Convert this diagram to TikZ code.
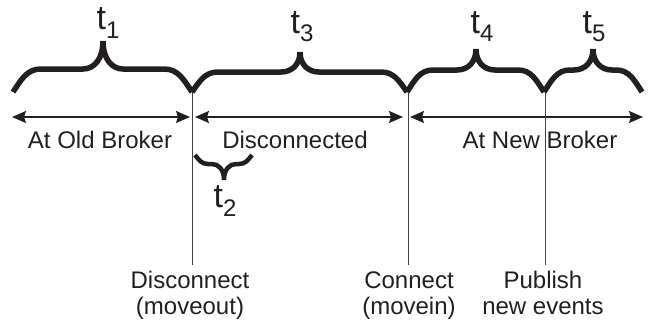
\documentclass[tikz,border=0pt]{standalone}
\usepackage{fontspec}
\setmainfont{Liberation Sans}
\usetikzlibrary{arrows.meta}
\definecolor{ink}{HTML}{231F20}
\newcommand{\tbrace}[9][]{%
 \draw[bracestyle,#1] (#2,#7) .. controls ({#2+0.3*#8},{#7+0.55*(#6-#7)}) and ({#2+0.5*#8},#6) .. ({#2+#8},#6)
  -- ({#4-#9},#6) .. controls ({#4-0.45*#9},#6) and (#4,{#6+0.35*(#5-#6)}) .. (#4,#5)
  .. controls (#4,{#6+0.35*(#5-#6)}) and ({#4+0.45*#9},#6) .. ({#4+#9},#6)
  -- ({#3-#8},#6) .. controls ({#3-0.5*#8},#6) and ({#3-0.3*#8},{#7+0.55*(#6-#7)}) .. (#3,#7);}
\newcommand{\tlab}[1]{{\fontsize{34}{34}\selectfont t}\raisebox{-9pt}{\fontsize{24}{24}\selectfont #1}}
\begin{document}
\begin{tikzpicture}[x=1pt,y=-1pt,
  bracestyle/.style={line width=5.5pt,draw=ink},
  arr/.style={line width=1.5pt,draw=ink,{Stealth[length=14pt,width=12pt,inset=2pt]}-{Stealth[length=14pt,width=12pt,inset=2pt]}},
  tick/.style={line width=0.9pt,draw=ink!85},
  lbl/.style={inner sep=0pt,anchor=base,text=ink,font=\fontsize{24}{26}\selectfont},
  blbl/.style={lbl,align=center},
  tl/.style={inner sep=0pt,anchor=base,text=ink}]
\useasboundingbox (0,0) rectangle (654,324);
% junctions
\coordinate (j0) at (13,92);
\coordinate (j1) at (192,92);
\coordinate (j2) at (407,92);
\coordinate (j3) at (544,92);
\coordinate (j4) at (642,92);
% braces
\tbrace{13}{192}{103}{41}{69}{92}{28}{20}
\tbrace{192}{407}{300}{52}{72}{92}{26}{19}
\tbrace{407}{544}{476}{49}{70}{92}{26}{19}
\tbrace{544}{642}{593}{49}{70}{92}{26}{19}
\tbrace[line width=4.5pt]{195}{252}{224}{180}{164}{155}{13}{12}
% brace labels
\node[tl] (t1) at (108,30) {\tlab{1}};
\node[tl] (t3) at (302,33) {\tlab{3}};
\node[tl] (t4) at (482,33) {\tlab{4}};
\node[tl] (t5) at (594,33) {\tlab{5}};
\node[tl] (t2) at (225,207) {\tlab{2}};
% arrows
\coordinate (a0l) at (12,117); \coordinate (a0r) at (190,117);
\coordinate (a1l) at (195,117); \coordinate (a1r) at (403,117);
\coordinate (a2l) at (410,117); \coordinate (a2r) at (643,117);
\draw[arr] (a0l) -- (a0r);
\draw[arr] (a1l) -- (a1r);
\draw[arr] (a2l) -- (a2r);
% state labels
\node[lbl] (old) at (100,148) {At Old Broker};
\node[lbl] (dis) at (295,148) {Disconnected};
\node[lbl] (new) at (540,148) {At New Broker};
% event lines
\coordinate (b1) at (192,265);
\coordinate (b2) at (408,265);
\coordinate (b3) at (545,265);
\draw[tick] (j1) -- (b1);
\draw[tick] (j2 -| b2) -- (b2);
\draw[tick] (j3 -| b3) -- (b3);
\node[blbl] (e1) at (190,314) {Disconnect\\(moveout)};
\node[blbl] (e2) at (409,314) {Connect\\(movein)};
\node[blbl] (e3) at (543,314) {Publish\\new events};
\end{tikzpicture}
\end{document}
